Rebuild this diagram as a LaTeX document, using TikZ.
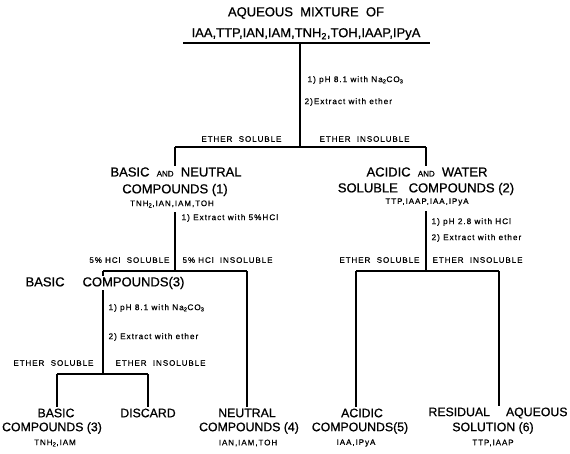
\documentclass[tikz,border=0pt]{standalone}
\usepackage{fontspec}
\setmainfont{Liberation Sans}[FakeBold=1]
\newfontfamily\heavy{Liberation Sans}[FakeBold=0.8]
\newfontfamily\spc{Liberation Sans}[LetterSpace=12,FakeBold=0.6]
\newcommand{\smand}{{\fontsize{8}{9}\selectfont AND}}
\begin{document}
\begin{tikzpicture}[x=1pt,y=-1pt, line width=1.2pt,
  big/.style={font=\heavy\fontsize{13}{15}\selectfont, inner sep=1pt, align=center},
  bot/.style={font=\heavy\fontsize{12.3}{15}\selectfont, inner sep=1pt, align=center},
  lab/.style={font=\spc\fontsize{8}{9}\selectfont, inner sep=1pt},
  note/.style={font=\spc\fontsize{8.2}{9}\selectfont, inner sep=1pt, anchor=west},
  sub/.style={font=\spc\fontsize{8}{9}\selectfont, inner sep=1pt},
]
\useasboundingbox (0,0) rectangle (570,453);

% title
\node[big] (t1) at (306,13) {AQUEOUS\ \ MIXTURE\ \ OF};
\node[big] (t2) at (306,34) {IAA,TTP,IAN,IAM,TNH\textsubscript{2},TOH,IAAP,IPyA};
\coordinate (ul1) at (183,43); \coordinate (ul2) at (430,43);
\draw (ul1) -- (ul2);

% first split
\coordinate (s0) at (300,43); \coordinate (j0) at (300,147);
\coordinate (j0l) at (175,147); \coordinate (j0r) at (426,147);
\draw (s0) -- (j0);
\draw (j0l) -- (j0r);
\node[note] (n1) at (306,80) {1) pH 8.1 with Na\textsubscript{2}CO\textsubscript{3}};
\node[note] (n2) at (303,102) {2)Extract with ether};
\node[lab, anchor=east] (l1) at (283,139) {ETHER\ \ SOLUBLE};
\node[lab, anchor=west] (l2) at (318,139) {ETHER\ \ INSOLUBLE};

% left: basic and neutral
\node[big] (bn1) at (176,172) {BASIC\ \ \smand\ \ NEUTRAL};
\node[big] (bn2) at (175,190) {COMPOUNDS (1)};
\node[sub] (bn3) at (172,204) {TNH\textsubscript{2},IAN,IAM,TOH};
\draw (j0l) -- (bn1.north -| j0l);

\coordinate (s1) at (175,212); \coordinate (j1) at (175,271);
\coordinate (j1l) at (103,271); \coordinate (j1r) at (247,271);
\draw (s1) -- (j1);
\draw (j1l) -- (j1r);
\node[note] (n3) at (180,218) {1) Extract with 5\%HCl};
\node[lab, anchor=east] (l3) at (171,260) {5\% HCl\ \ SOLUBLE};
\node[lab, anchor=west] (l4) at (181,260) {5\% HCl\ \ INSOLUBLE};

% basic compounds (3) intermediate
\coordinate (j3) at (103,374); \coordinate (j3l) at (57,374); \coordinate (j3r) at (148,374);
\draw (j1l) -- (j3);
\draw (j3l) -- (j3r);
\node[big, fill=white, inner sep=0.5pt] (bc) at (105,283) {BASIC\hspace{18pt}COMPOUNDS(3)};
\node[note] (n4) at (107,308) {1) pH 8.1 with Na\textsubscript{2}CO\textsubscript{3}};
\node[note] (n5) at (107,337) {2) Extract with ether};
\node[lab, anchor=east] (l5) at (95,363) {ETHER\ \ SOLUBLE};
\node[lab, anchor=west] (l6) at (114,363) {ETHER\ \ INSOLUBLE};

% bottom left nodes
\node[bot] (b1) at (56,413) {BASIC};
\node[bot] (b1b) at (52,428) {COMPOUNDS (3)};
\node[sub] (b1c) at (55,443) {TNH\textsubscript{2},IAM};
\draw (j3l) -- (b1.north -| j3l);

\node[bot] (b2) at (148,413) {DISCARD};
\draw (j3r) -- (b2.north -| j3r);

\node[bot] (b3) at (247,413) {NEUTRAL};
\node[bot] (b3b) at (249,428) {COMPOUNDS (4)};
\node[sub] (b3c) at (248,443) {IAN,IAM,TOH};
\draw (j1r) -- (b3.north -| j1r);

% right: acidic and water soluble
\node[big] (aw1) at (427,172) {ACIDIC\ \ \smand\ \ WATER};
\node[big] (aw2) at (426,189) {SOLUBLE\ \ \ COMPOUNDS (2)};
\node[sub] (aw3) at (427,202) {TTP,IAAP,IAA,IPyA};
\draw (j0r) -- (aw1.north -| j0r);

\coordinate (s2) at (426,211); \coordinate (j2) at (426,271);
\coordinate (j2l) at (356,271); \coordinate (j2r) at (499,271);
\draw (s2) -- (j2);
\draw (j2l) -- (j2r);
\node[note] (n6) at (430,222) {1) pH 2.8 with HCl};
\node[note] (n7) at (430,238) {2) Extract with ether};
\node[lab, anchor=east] (l7) at (421,260) {ETHER\ \ SOLUBLE};
\node[lab, anchor=west] (l8) at (431,260) {ETHER\ \ INSOLUBLE};

\node[bot] (b4) at (362,413) {ACIDIC};
\node[bot] (b4b) at (360,428) {COMPOUNDS(5)};
\node[sub] (b4c) at (356,443) {IAA,IPyA};
\draw (j2l) -- (b4.north -| j2l);

\node[bot] (b5) at (498,413) {RESIDUAL\hspace{16pt}AQUEOUS};
\node[bot] (b5b) at (493,428) {SOLUTION (6)};
\node[sub] (b5c) at (493,443) {TTP,IAAP};
\draw (j2r) -- (b5.north -| j2r);
\end{tikzpicture}
\end{document}
